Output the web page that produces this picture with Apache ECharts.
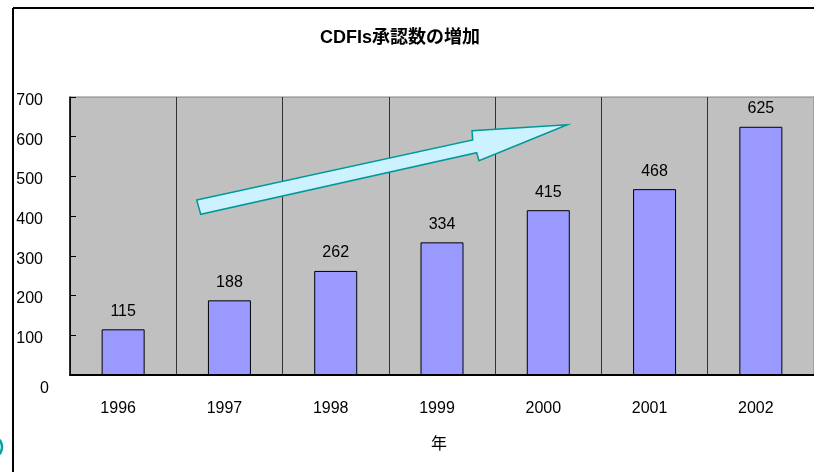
<!DOCTYPE html>
<html><head><meta charset="utf-8">
<script src="https://cdn.jsdelivr.net/npm/echarts@6/dist/echarts.min.js"></script>
<style>html,body{margin:0;padding:0;background:#fff}#c{width:814px;height:472px}</style>
</head><body><div id="c"></div>
<script>
const categories = ['1996','1997','1998','1999','2000','2001','2002'];
const approvals = [115, 188, 262, 334, 415, 468, 625];
const yTicks = {min: 0, max: 700, interval: 100};
const titleText = 'CDFIs承認数の増加';
const xName = '年';
const FONT = '"Liberation Sans", Arial, "Noto Sans CJK JP", sans-serif';

const chart = echarts.init(document.getElementById('c'), null, {renderer: 'canvas'});
chart.setOption({
  animation: false,
  backgroundColor: '#ffffff',
  textStyle: {fontFamily: FONT},
  title: {
    text: titleText, left: 395, top: 24, textAlign: 'center',
    textStyle: {fontSize: 18, fontWeight: 'bold', color: '#000', fontFamily: FONT}
  },
  grid: {
    left: 70, top: 97, width: 745.5, height: 278,
    show: true, backgroundColor: '#C0C0C0', borderColor: '#808080', borderWidth: 1
  },
  xAxis: {
    type: 'category', data: categories,
    name: xName, nameLocation: 'middle', nameGap: 62,
    nameTextStyle: {fontSize: 16, color: '#000', fontFamily: FONT, padding: [0, 6, 0, 0]},
    axisLine: {show: true, lineStyle: {color: '#000', width: 2}},
    axisTick: {show: false},
    axisLabel: {fontSize: 16, color: '#000', margin: 26, padding: [0, 10, 0, 0], fontFamily: FONT},
    splitLine: {show: true, lineStyle: {color: '#333', width: 1}}
  },
  yAxis: {
    type: 'value', min: yTicks.min, max: yTicks.max, interval: yTicks.interval,
    axisLine: {show: true, lineStyle: {color: '#000', width: 1.5}},
    axisTick: {show: true, inside: true, length: 6, lineStyle: {color: '#000'}},
    splitLine: {show: false},
    axisLabel: {
      fontSize: 16, color: '#000', margin: 27, fontFamily: FONT,
      formatter: v => v === 0 ? '{z|0}' : '{n|' + v + '}',
      rich: {
        n: {fontSize: 16, color: '#000', padding: [7, 0, 0, 0], fontFamily: FONT},
        z: {fontSize: 16, color: '#000', padding: [27, -6, 0, 0], fontFamily: FONT}
      }
    }
  },
  series: [{
    type: 'bar', data: approvals, barWidth: 43,
    itemStyle: {color: '#9999FF', borderColor: '#000', borderWidth: 1},
    label: {show: true, position: 'top', distance: 10, fontSize: 16, color: '#000', fontFamily: FONT}
  }],
  graphic: [
    {type: 'line', shape: {x1: 13, y1: 8, x2: 814, y2: 8}, style: {stroke: '#000', lineWidth: 2}},
    {type: 'line', shape: {x1: 13, y1: 8, x2: 13, y2: 472}, style: {stroke: '#000', lineWidth: 2}},
    {type: 'circle', shape: {cx: -9, cy: 447, r: 11}, style: {fill: 'none', stroke: '#00A0A0', lineWidth: 2.5}},
    {type: 'polygon', z: 100,
      shape: {points: [[196.7,200],[472.7,140],[472,130.7],[567.3,124.7],[479,160.7],[476.7,152.7],[200.7,214.3]]},
      style: {fill: '#CCF2FF', stroke: '#009999', lineWidth: 1.5}}
  ]
});
</script></body></html>
